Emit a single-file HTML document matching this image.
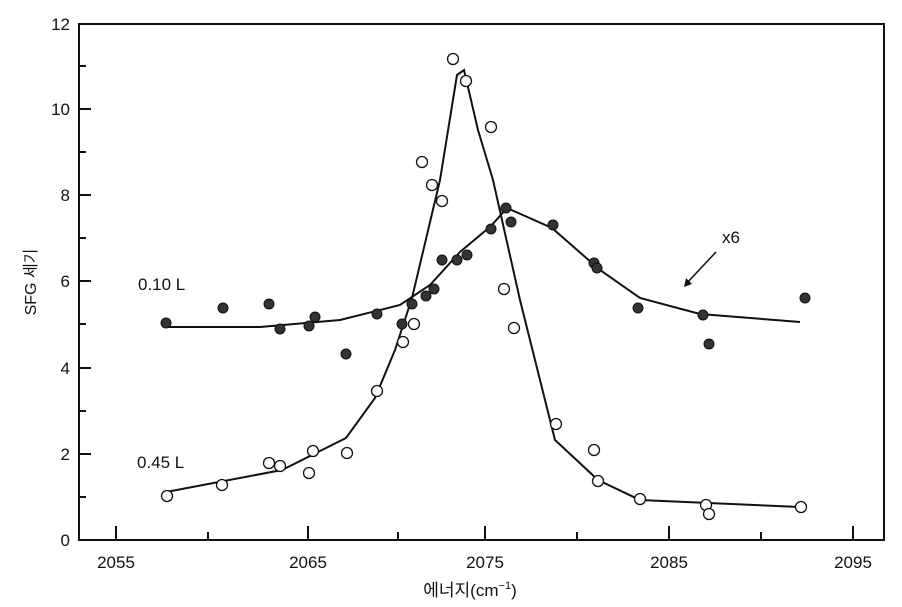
<!DOCTYPE html><html><head><style>body{margin:0;background:#fff}svg{display:block}text{font-family:"Liberation Sans","Noto Sans CJK KR",sans-serif;fill:#111}</style></head><body>
<svg width="902" height="607" viewBox="0 0 902 607">
<g stroke="#111" stroke-width="2" fill="none">
<path d="M79,24 H884 V540 H79 Z"/>
<path d="M79,109h12M79,195h12M79,281h12M79,368h12M79,454h12M79,66h7M79,152h7M79,238h7M79,324h7M79,411h7M79,497h7"/>
<path d="M116,540v-14M308,540v-14M485,540v-14M669,540v-14M853,540v-14M208,540v-8M398,540v-8M577,540v-8M761,540v-8"/>
<polyline points="166,327 260,327 340,320 400,305 430,285 460,252 491,226 507,208 552,228 600,270 640,298 700,314 800,322"/>
<polyline points="166,492 282,470 346,438 375,398 395,350 412,298 440,180 457,75 464,70 478,130 493,180 520,300 555,440 598,480 640,500 800,507"/>
<path d="M716,252 L686,284" stroke-width="1.5"/>
</g>
<path d="M684,287 l2,-9 l6,6 z" fill="#111"/>
<g fill="#333" stroke="#111" stroke-width="1">
<circle cx="166" cy="323" r="5"/><circle cx="223" cy="308" r="5"/><circle cx="269" cy="304" r="5"/><circle cx="280" cy="329" r="5"/><circle cx="309" cy="326" r="5"/><circle cx="315" cy="317" r="5"/><circle cx="346" cy="354" r="5"/><circle cx="377" cy="314" r="5"/><circle cx="402" cy="324" r="5"/><circle cx="412" cy="304" r="5"/><circle cx="426" cy="296" r="5"/><circle cx="434" cy="289" r="5"/><circle cx="442" cy="260" r="5"/><circle cx="457" cy="260" r="5"/><circle cx="467" cy="255" r="5"/><circle cx="491" cy="229" r="5"/><circle cx="506" cy="208" r="5"/><circle cx="511" cy="222" r="5"/><circle cx="553" cy="225" r="5"/><circle cx="594" cy="263" r="5"/><circle cx="597" cy="268" r="5"/><circle cx="638" cy="308" r="5"/><circle cx="703" cy="315" r="5"/><circle cx="709" cy="344" r="5"/><circle cx="805" cy="298" r="5"/>
</g>
<g fill="#fff" stroke="#111" stroke-width="1.3">
<circle cx="167" cy="496" r="5.5"/><circle cx="222" cy="485" r="5.5"/><circle cx="269" cy="463" r="5.5"/><circle cx="280" cy="466" r="5.5"/><circle cx="309" cy="473" r="5.5"/><circle cx="313" cy="451" r="5.5"/><circle cx="347" cy="453" r="5.5"/><circle cx="377" cy="391" r="5.5"/><circle cx="403" cy="342" r="5.5"/><circle cx="414" cy="324" r="5.5"/><circle cx="422" cy="162" r="5.5"/><circle cx="432" cy="185" r="5.5"/><circle cx="442" cy="201" r="5.5"/><circle cx="453" cy="59" r="5.5"/><circle cx="466" cy="81" r="5.5"/><circle cx="491" cy="127" r="5.5"/><circle cx="504" cy="289" r="5.5"/><circle cx="514" cy="328" r="5.5"/><circle cx="556" cy="424" r="5.5"/><circle cx="594" cy="450" r="5.5"/><circle cx="598" cy="481" r="5.5"/><circle cx="640" cy="499" r="5.5"/><circle cx="706" cy="505" r="5.5"/><circle cx="709" cy="514" r="5.5"/><circle cx="801" cy="507" r="5.5"/>
</g>
<g font-size="17" text-anchor="end">
<text x="70" y="30">12</text><text x="70" y="115">10</text><text x="70" y="201">8</text><text x="70" y="287">6</text><text x="70" y="374">4</text><text x="70" y="460">2</text><text x="70" y="546">0</text>
</g>
<g font-size="17" text-anchor="middle">
<text x="116" y="568">2055</text><text x="308" y="568">2065</text><text x="485" y="568">2075</text><text x="669" y="568">2085</text><text x="853" y="568">2095</text>
<text x="470" y="596">에너지(cm<tspan font-size="11" dy="-7">−1</tspan><tspan dy="7">)</tspan></text>
</g>
<text x="138" y="290" font-size="17">0.10 L</text>
<text x="137" y="468" font-size="17">0.45 L</text>
<text x="722" y="243" font-size="17">x6</text>
<text transform="translate(36,282) rotate(-90)" font-size="16" text-anchor="middle">SFG 세기</text>
</svg></body></html>
